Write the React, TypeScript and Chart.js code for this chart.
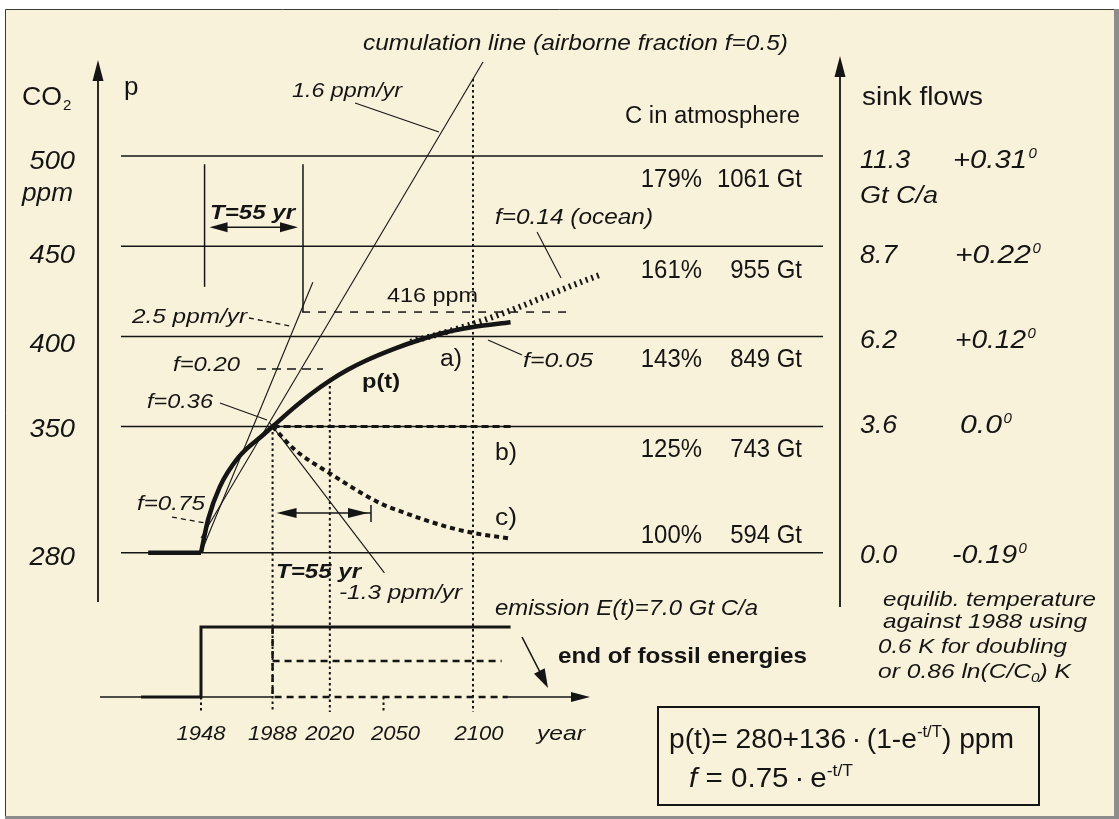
import React, { useEffect, useRef } from 'react';
import { Chart, registerables } from 'chart.js';

Chart.register(...registerables);

// ---------------- data ----------------
const REF_PPM = [500, 450, 400, 350, 280];
const REF_LABELS = ['500', '450', '400', '350', '280'];
const ATM_PCT = ['179%', '161%', '143%', '125%', '100%'];
const ATM_GT = ['1061 Gt', '955 Gt', '849 Gt', '743 Gt', '594 Gt'];
const SINK_FLOWS = ['11.3', '8.7', '6.2', '3.6', '0.0'];
const EQ_TEMPS = ['+0.31', '+0.22', '+0.12', '0.0', '-0.19'];
const YEAR_TICKS = [1948, 1988, 2020, 2050, 2100];

const PRE_YEARS = [1918.5, 1948];
const PRE_PPM = [280, 280];
const CURVE_YEARS = [1948, 1952, 1958.5, 1969, 1983, 1988, 2000, 2010, 2020, 2030, 2040, 2057, 2070, 2085, 2100, 2121];
const CURVE_PPM = [280, 298.5, 316.5, 333, 345.6, 350, 360.5, 368.5, 375.5, 381.5, 386.5, 393.5, 398, 402.3, 405.2, 407.8];
const B_YEARS = [1988, 2121];
const B_PPM = [350, 350];
const C_YEARS = [1988, 2000, 2020, 2048, 2058, 2085, 2100, 2120];
const C_PPM = [350, 337.5, 324, 307.5, 303.5, 294.5, 291, 288];
const OCEAN_YEARS = [2065, 2080, 2100, 2120, 2140, 2160, 2172];
const OCEAN_PPM = [397, 401, 407, 414, 422, 430, 434.5];
const TAN_YEARS = [1948, 2010.5];
const TAN_PPM = [280, 430];
const CUMUL_YEARS = [1948, 2105.6];
const CUMUL_PPM = [288.2, 552.2];
const DECAY_YEARS = [1986, 2050.5];
const DECAY_PPM = [352.6, 268.8];
const ASYMP_YEARS = [2004.5, 2155.5];
const ASYMP_PPM = [413.5, 413.5];

const EMIS_YEARS = [1914.5, 1948, 1948, 2121];
const EMIS_GT = [0, 0, 7, 7];
const STOP_YEARS = [1988, 1988, 2119.5];
const STOP_GT = [7, 0, 0];
const HOLD_YEARS = [1988, 2116];
const HOLD_GT = [3.6, 3.6];

const T_START = 1950;
const T_YEARS = 55;

// ---------------- scales ----------------
const W = 1119;
const H = 819;
const X_MIN = 1835.68;
const X_MAX = 2461.0;
const Y_MIN = 132.3;
const Y_MAX = 586.59;
const E_MIN = -12.2;
const E_MAX = 69.7;

const INK = '#151515';
const CREAM = '#F9F2DA';
const FONT = '"Liberation Sans", Arial, Helvetica, sans-serif';

type TO = { size: number; italic?: boolean; bold?: boolean; w?: number; sx?: number; align?: 'left' | 'right' | 'center' };

function fontOf(o: { size: number; italic?: boolean; bold?: boolean }) {
  return `${o.italic ? 'italic ' : ''}${o.bold ? 'bold ' : ''}${o.size}px ${FONT}`;
}

function txt(ctx: CanvasRenderingContext2D, s: string, x: number, y: number, o: TO) {
  ctx.font = fontOf(o);
  const m = ctx.measureText(s).width;
  const sx = o.w ? o.w / m : o.sx ?? 1;
  const ww = m * sx;
  let x0 = x;
  if (o.align === 'right') x0 = x - ww;
  else if (o.align === 'center') x0 = x - ww / 2;
  ctx.save();
  ctx.translate(x0, y);
  ctx.scale(sx, 1);
  ctx.fillStyle = INK;
  ctx.textAlign = 'left';
  ctx.textBaseline = 'alphabetic';
  ctx.fillText(s, 0, 0);
  ctx.restore();
  return x0 + ww;
}

type Piece = { s: string; size: number; italic?: boolean; bold?: boolean; dy?: number };
function run(ctx: CanvasRenderingContext2D, pieces: Piece[], x: number, y: number, w: number) {
  const widths = pieces.map((p) => {
    ctx.font = fontOf(p);
    return ctx.measureText(p.s).width;
  });
  const total = widths.reduce((a, b) => a + b, 0);
  const sx = w / total;
  let cx = x;
  pieces.forEach((p, i) => {
    ctx.save();
    ctx.font = fontOf(p);
    ctx.translate(cx, y + (p.dy || 0));
    ctx.scale(sx, 1);
    ctx.fillStyle = INK;
    ctx.textAlign = 'left';
    ctx.textBaseline = 'alphabetic';
    ctx.fillText(p.s, 0, 0);
    ctx.restore();
    cx += widths[i] * sx;
  });
}

function seg(ctx: CanvasRenderingContext2D, pts: number[][], lw: number, dash: number[] = []) {
  ctx.save();
  ctx.strokeStyle = INK;
  ctx.lineWidth = lw;
  ctx.setLineDash(dash);
  ctx.lineCap = 'butt';
  ctx.beginPath();
  pts.forEach(([px, py], i) => (i ? ctx.lineTo(px, py) : ctx.moveTo(px, py)));
  ctx.stroke();
  ctx.restore();
}

function head(ctx: CanvasRenderingContext2D, fx: number, fy: number, tx: number, ty: number, len: number, half: number) {
  const a = Math.atan2(ty - fy, tx - fx);
  const bx = tx - len * Math.cos(a);
  const by = ty - len * Math.sin(a);
  ctx.save();
  ctx.fillStyle = INK;
  ctx.beginPath();
  ctx.moveTo(tx, ty);
  ctx.lineTo(bx + half * Math.sin(a), by - half * Math.cos(a));
  ctx.lineTo(bx - half * Math.sin(a), by + half * Math.cos(a));
  ctx.closePath();
  ctx.fill();
  ctx.restore();
}

function lerp(xs: number[], ys: number[], x: number) {
  for (let i = 0; i < xs.length - 1; i++) {
    if (x >= xs[i] && x <= xs[i + 1]) {
      const t = (x - xs[i]) / (xs[i + 1] - xs[i]);
      return ys[i] + t * (ys[i + 1] - ys[i]);
    }
  }
  return ys[ys.length - 1];
}

const deco = {
  id: 'deco',
  beforeDraw(chart: any) {
    const ctx: CanvasRenderingContext2D = chart.ctx;
    ctx.save();
    ctx.fillStyle = '#ffffff';
    ctx.fillRect(0, 0, W, H);
    ctx.fillStyle = CREAM;
    ctx.fillRect(5, 9, 1109, 808);
    ctx.strokeStyle = '#3a3a3a';
    ctx.lineWidth = 1;
    ctx.beginPath();
    ctx.moveTo(5.5, 816);
    ctx.lineTo(5.5, 9.5);
    ctx.lineTo(1114, 9.5);
    ctx.stroke();
    ctx.fillStyle = '#8c8c8c';
    ctx.fillRect(1114, 9, 5, 810);
    ctx.fillRect(5, 816, 1114, 3);
    ctx.restore();
  },
  beforeDatasetsDraw(chart: any) {
    const ctx: CanvasRenderingContext2D = chart.ctx;
    const X = (v: number) => chart.scales.x.getPixelForValue(v);
    const Y = (v: number) => chart.scales.y.getPixelForValue(v);
    const E = (v: number) => chart.scales.y2.getPixelForValue(v);

    // horizontal reference lines
    REF_PPM.forEach((v) => seg(ctx, [[121, Y(v)], [823, Y(v)]], 1.5));

    // axes
    seg(ctx, [[98, 76], [98, 602]], 1.8);
    head(ctx, 98, 100, 98, 60, 21, 5.5);
    seg(ctx, [[840, 72], [840, 607]], 1.8);
    head(ctx, 840, 100, 840, 56, 21, 5.5);
    const e0 = E(0);
    seg(ctx, [[100, e0], [X(1988), e0]], 1.5);
    seg(ctx, [[X(2119.5), e0], [575, e0]], 1.5);
    head(ctx, 560, e0, 590, e0, 19, 5);

    // dotted verticals
    const dot = [2.5, 3];
    const eLow = E(-1.5);
    seg(ctx, [[X(1988), Y(350)], [X(1988), eLow]], 2, dot);
    seg(ctx, [[X(2020), Y(lerp(CURVE_YEARS, CURVE_PPM, 2020))], [X(2020), eLow]], 2, dot);
    seg(ctx, [[X(2100), Y(lerp(CUMUL_YEARS, CUMUL_PPM, 2100))], [X(2100), eLow]], 2, dot);
    seg(ctx, [[X(1948), e0], [X(1948), eLow]], 2, dot);
    seg(ctx, [[X(2050), e0], [X(2050), eLow]], 2, dot);

    // T box (upper)
    const tx0 = X(T_START);
    const tx1 = X(T_START + T_YEARS);
    seg(ctx, [[tx0, Y(495.5)], [tx0, Y(427.5)]], 1.5);
    seg(ctx, [[tx1, Y(495.5)], [tx1, Y(ASYMP_PPM[0])]], 1.5);
    const ta = Y(460.5);
    seg(ctx, [[tx0 + 10, ta], [tx1 - 10, ta]], 1.6);
    head(ctx, tx1, ta, tx0 + 5, ta, 18, 5);
    head(ctx, tx0, ta, tx1 - 5, ta, 18, 5);

    // T arrow (lower)
    const la = Y(302);
    const lx0 = X(1988) + 4;
    const lx1 = X(1988 + T_YEARS);
    seg(ctx, [[lx0 + 10, la], [lx1, la]], 1.6);
    head(ctx, lx1, la, lx0, la, 20, 5);
    head(ctx, lx0, la, lx1 - 3, la, 20, 5);
    seg(ctx, [[lx1, Y(306.5)], [lx1, Y(297)]], 1.5);

    // leader lines
    const P = (yr: number, ppm: number) => [X(yr), Y(ppm)];
    seg(ctx, [P(2034.1, 529.5), P(2081.0, 513.4)], 1.1);
    seg(ctx, [P(1974.8, 410.2), P(1997.2, 405.8)], 1.3, [5, 4]);
    seg(ctx, [P(1979.3, 381.9), P(2016.2, 381.9)], 1.3, [9, 6]);
    seg(ctx, [P(1958.6, 363.0), P(1984.9, 353.6)], 1.1);
    seg(ctx, [P(1931.8, 299.8), P(1950.2, 296.5)], 1.3, [5, 4]);
    seg(ctx, [P(2108.4, 398.0), P(2127.4, 389.7)], 1.1);
    seg(ctx, [P(2135.8, 457.9), P(2149.2, 432.4)], 1.1);
  },
  afterDatasetsDraw(chart: any) {
    const ctx: CanvasRenderingContext2D = chart.ctx;
    const X = (v: number) => chart.scales.x.getPixelForValue(v);
    const Y = (v: number) => chart.scales.y.getPixelForValue(v);

    // left axis labels
    txt(ctx, 'CO', 22, 105, { size: 26, w: 40 });
    txt(ctx, '2', 63, 110, { size: 15 });
    txt(ctx, 'p', 124, 95, { size: 26 });
    const leftOff = [13, 17, 15.6, 10.5, 12.3];
    REF_PPM.forEach((v, i) => txt(ctx, REF_LABELS[i], 75, Y(v) + leftOff[i], { size: 26, italic: true, sx: 1.05, align: 'right' }));
    txt(ctx, 'ppm', 22, 201, { size: 25, italic: true, w: 51 });

    // top texts
    txt(ctx, 'cumulation line (airborne fraction f=0.5)', 363, 50, { size: 22, italic: true, w: 425 });
    txt(ctx, '1.6 ppm/yr', 292, 97, { size: 20, italic: true, w: 110 });
    txt(ctx, 'T=55 yr', 210, 219, { size: 20, italic: true, bold: true, w: 85 });

    // C in atmosphere
    txt(ctx, 'C in atmosphere', 625, 123, { size: 23, w: 175 });
    const pctOff = [31, 32, 30.6, 30.5, -9.7];
    REF_PPM.forEach((v, i) => {
      txt(ctx, ATM_PCT[i], 702, Y(v) + pctOff[i], { size: 26, sx: 0.92, align: 'right' });
      txt(ctx, ATM_GT[i], 802, Y(v) + pctOff[i], { size: 26, sx: 0.92, align: 'right' });
    });

    // sink flows column
    txt(ctx, 'sink flows', 862, 105, { size: 25, w: 121 });
    const rOff = [12, 17, 12, 6.5, 10];
    const tempBox = [[953, 1027], [955, 1031], [955, 1026], [960, 1002], [952, 1017]];
    REF_PPM.forEach((v, i) => {
      const b = Y(v) + rOff[i];
      txt(ctx, SINK_FLOWS[i], 860, b, { size: 25, italic: true, sx: 1.07 });
      const r = txt(ctx, EQ_TEMPS[i], tempBox[i][0], b, { size: 25, italic: true, w: tempBox[i][1] - tempBox[i][0] });
      txt(ctx, '0', r + 1.5, b - 10, { size: 15, italic: true });
    });
    txt(ctx, 'Gt C/a', 860, 203, { size: 23, italic: true, w: 78 });

    // curve annotations
    txt(ctx, 'f=0.14 (ocean)', 495, 224, { size: 22, italic: true, w: 158 });
    txt(ctx, '416 ppm', 387, 302, { size: 21, w: 91 });
    txt(ctx, '2.5 ppm/yr', 132, 323, { size: 21, italic: true, w: 115 });
    txt(ctx, 'f=0.20', 173, 371, { size: 21, italic: true, w: 67 });
    txt(ctx, 'f=0.36', 147, 408, { size: 21, italic: true, w: 66 });
    txt(ctx, 'f=0.75', 137, 510, { size: 21, italic: true, w: 68 });
    txt(ctx, 'f=0.05', 523, 367, { size: 21, italic: true, w: 70 });
    txt(ctx, 'p(t)', 362, 388, { size: 21, bold: true, w: 38 });
    txt(ctx, 'a)', 440, 366, { size: 23, w: 22 });
    txt(ctx, 'b)', 495, 460, { size: 23, w: 22 });
    txt(ctx, 'c)', 495, 525, { size: 23, w: 22 });
    txt(ctx, 'T=55 yr', 276, 578, { size: 20, italic: true, bold: true, w: 85 });
    txt(ctx, '-1.3 ppm/yr', 339, 599, { size: 21, italic: true, w: 123 });

    // emission panel
    txt(ctx, 'emission E(t)=7.0 Gt C/a', 495, 615, { size: 22, italic: true, w: 263 });
    txt(ctx, 'end of fossil energies', 558, 663, { size: 22, bold: true, w: 249 });
    seg(ctx, [[522, 637], [542, 676]], 1.6);
    head(ctx, 522, 637, 548, 688, 19, 6);
    const yrOff: Record<number, number> = { 2050: 12, 2100: 6 };
    YEAR_TICKS.forEach((yr) => txt(ctx, String(yr), X(yr) + (yrOff[yr] || 0), 740, { size: 21, italic: true, sx: 1.05, align: 'center' }));
    txt(ctx, 'year', 537, 740, { size: 21, italic: true, w: 48 });

    // equilibrium temperature note
    txt(ctx, 'equilib. temperature', 883, 606, { size: 21, italic: true, w: 213 });
    txt(ctx, 'against 1988 using', 883, 628, { size: 21, italic: true, w: 204 });
    txt(ctx, '0.6 K for doubling', 878, 653, { size: 21, italic: true, w: 189 });
    run(ctx, [
      { s: 'or 0.86 ln(C/C', size: 21, italic: true },
      { s: '0', size: 13, italic: true, dy: 4 },
      { s: ') K', size: 21, italic: true },
    ], 878, 678, 193);

    // formula box
    ctx.save();
    ctx.strokeStyle = INK;
    ctx.lineWidth = 2;
    ctx.strokeRect(658, 707, 381, 98);
    ctx.restore();
    run(ctx, [
      { s: 'p(t)= 280+136\u2009·\u2009(1-e', size: 27 },
      { s: '-t/T', size: 16, dy: -11 },
      { s: ') ppm', size: 27 },
    ], 669, 748, 345);
    run(ctx, [
      { s: 'f', size: 27, italic: true },
      { s: ' = 0.75\u2009·\u2009e', size: 27 },
      { s: '-t/T', size: 16, dy: -11 },
    ], 689, 787, 164);
  },
};

function ds(xs: number[], ys: number[], o: { w: number; dash?: number[]; smooth?: boolean; axis?: string }) {
  return {
    data: xs.map((x, i) => ({ x, y: ys[i] })),
    borderColor: INK,
    backgroundColor: INK,
    pointRadius: 0,
    borderWidth: o.w,
    borderDash: o.dash || [],
    borderCapStyle: 'butt',
    borderJoinStyle: 'miter',
    tension: 0,
    cubicInterpolationMode: o.smooth ? 'monotone' : 'default',
    yAxisID: o.axis || 'y',
    fill: false,
  };
}

export default function App() {
  const ref = useRef<HTMLCanvasElement | null>(null);
  useEffect(() => {
    if (!ref.current) return;
    const chart = new Chart(ref.current, {
      type: 'line',
      data: {
        datasets: [
          ds(PRE_YEARS, PRE_PPM, { w: 4.5 }),
          ds(CURVE_YEARS, CURVE_PPM, { w: 4.5, smooth: true }),
          ds(B_YEARS, B_PPM, { w: 3, dash: [7, 4] }),
          ds(C_YEARS, C_PPM, { w: 4, dash: [5, 4], smooth: true }),
          ds(OCEAN_YEARS, OCEAN_PPM, { w: 6, dash: [2, 4], smooth: true }),
          ds(TAN_YEARS, TAN_PPM, { w: 1.1 }),
          ds(CUMUL_YEARS, CUMUL_PPM, { w: 1.1 }),
          ds(DECAY_YEARS, DECAY_PPM, { w: 1.1 }),
          ds(ASYMP_YEARS, ASYMP_PPM, { w: 1.5, dash: [8, 8] }),
          ds(EMIS_YEARS, EMIS_GT, { w: 3, axis: 'y2' }),
          ds(STOP_YEARS, STOP_GT, { w: 2.5, dash: [7, 5], axis: 'y2' }),
          ds(HOLD_YEARS, HOLD_GT, { w: 2.5, dash: [7, 5], axis: 'y2' }),
        ] as any,
      },
      options: {
        animation: false,
        responsive: false,
        devicePixelRatio: 1,
        events: [],
        layout: { padding: 0 },
        plugins: { legend: { display: false }, tooltip: { enabled: false }, title: { display: false } },
        scales: {
          x: { type: 'linear', min: X_MIN, max: X_MAX, display: false },
          y: { type: 'linear', min: Y_MIN, max: Y_MAX, display: false },
          y2: { type: 'linear', min: E_MIN, max: E_MAX, display: false },
        },
      } as any,
      plugins: [deco],
    });
    return () => chart.destroy();
  }, []);
  return (
    <div style={{ position: 'absolute', left: 0, top: 0, width: W, height: H }}>
      <canvas ref={ref} width={W} height={H} style={{ display: 'block', width: W, height: H }} />
    </div>
  );
}
